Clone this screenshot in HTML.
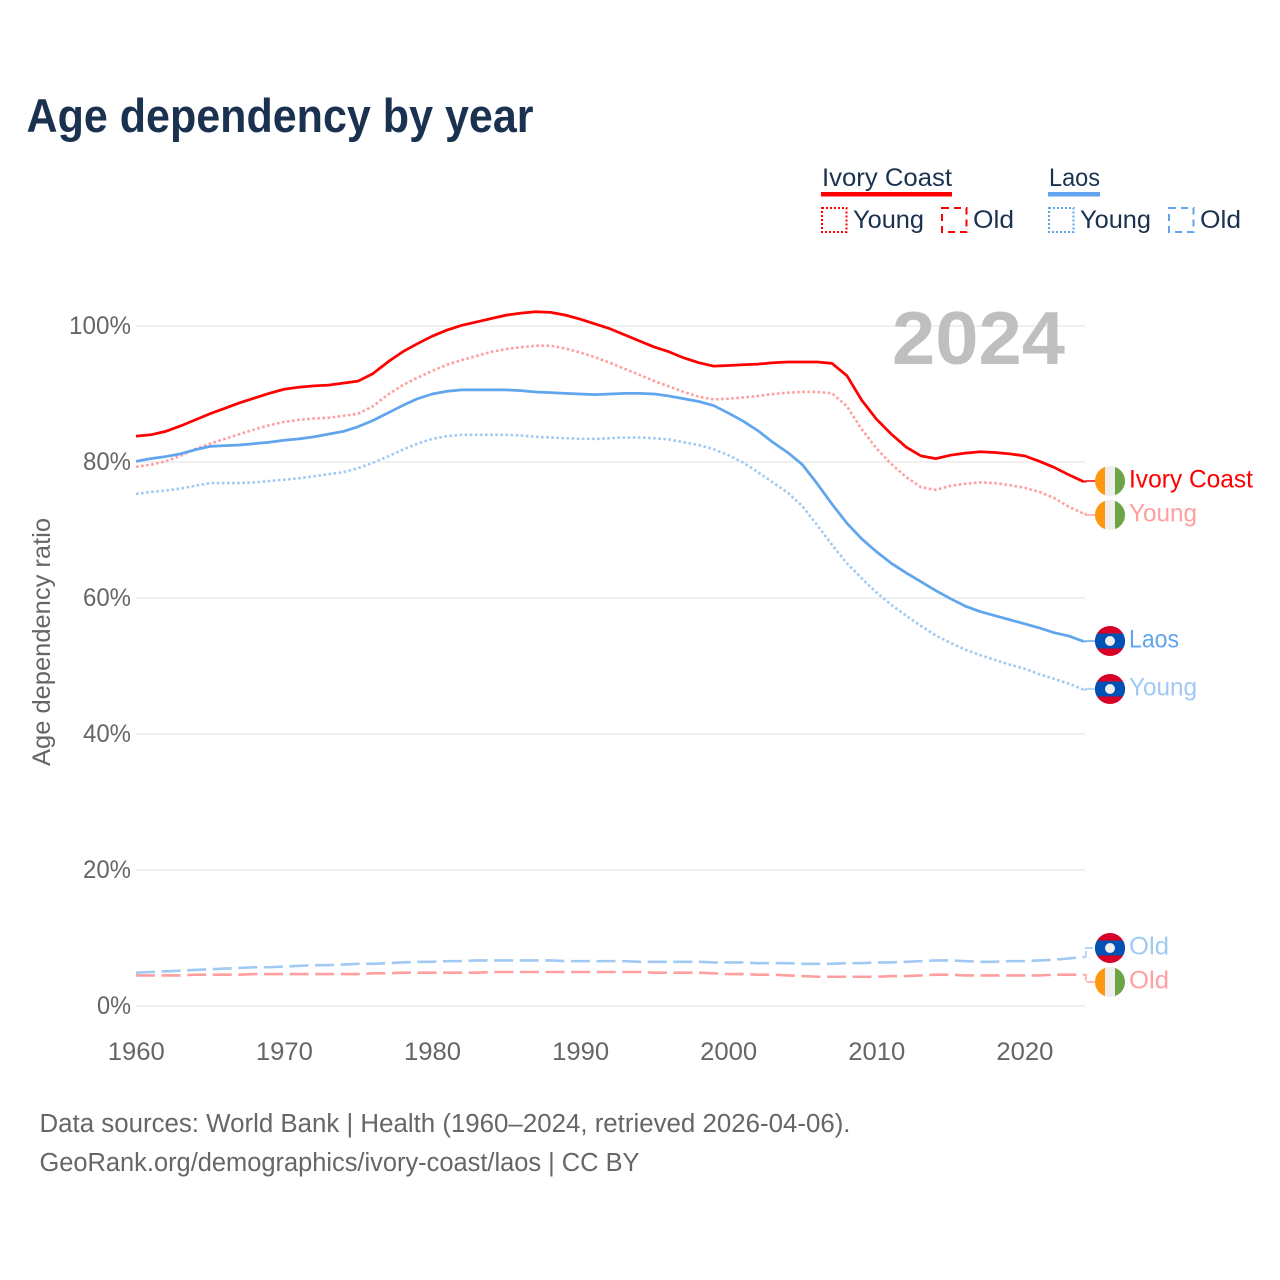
<!DOCTYPE html>
<html lang="en">
<head>
<meta charset="utf-8">
<title>Age dependency by year</title>
<style>
html,body{margin:0;padding:0;background:#fff;width:1280px;height:1280px;overflow:hidden}
svg{display:block}
text{font-family:"Liberation Sans",sans-serif}
</style>
</head>
<body>
<svg id="chart" xmlns="http://www.w3.org/2000/svg" width="1280" height="1280" viewBox="0 0 1280 1280">
  <rect x="0" y="0" width="1280" height="1280" fill="#ffffff"/>
  <text x="26.500" y="132" font-size="47" font-weight="700" fill="#1a3250" textLength="507" lengthAdjust="spacingAndGlyphs">Age dependency by year</text>

  <g>
    <text x="822" y="186" font-size="25" fill="#1a3250" textLength="130" lengthAdjust="spacingAndGlyphs">Ivory Coast</text>
    <rect x="821" y="192" width="131" height="4.5" fill="#ff0000"/>
    <rect x="822" y="208" width="24.500" height="24" fill="none" stroke="#ff0000" stroke-width="2" stroke-dasharray="2 2"/>
    <text x="853" y="228" font-size="25" fill="#1a3250" textLength="71" lengthAdjust="spacingAndGlyphs">Young</text>
    <rect x="942" y="208" width="24.500" height="24" fill="none" stroke="#ff0000" stroke-width="2" stroke-dasharray="7 5"/>
    <text x="973" y="228" font-size="25" fill="#1a3250" textLength="41" lengthAdjust="spacingAndGlyphs">Old</text>

    <text x="1049" y="186" font-size="25" fill="#1a3250" textLength="51" lengthAdjust="spacingAndGlyphs">Laos</text>
    <rect x="1048" y="192" width="52" height="4.5" fill="#60a5ee"/>
    <rect x="1049" y="208" width="24.500" height="24" fill="none" stroke="#60a5ee" stroke-width="2" stroke-dasharray="2 2"/>
    <text x="1080" y="228" font-size="25" fill="#1a3250" textLength="71" lengthAdjust="spacingAndGlyphs">Young</text>
    <rect x="1169" y="208" width="24.500" height="24" fill="none" stroke="#60a5ee" stroke-width="2" stroke-dasharray="7 5"/>
    <text x="1200" y="228" font-size="25" fill="#1a3250" textLength="41" lengthAdjust="spacingAndGlyphs">Old</text>
  </g>

  <g id="grid"></g>
  <text x="978.500" y="364" text-anchor="middle" font-size="75" font-weight="700" fill="#bfbfbf" textLength="173" lengthAdjust="spacingAndGlyphs">2024</text>
  <g id="yticks"></g>
  <g id="xticks"></g>
  <text transform="translate(50,642) rotate(-90)" text-anchor="middle" font-size="25" fill="#666666" textLength="248" lengthAdjust="spacingAndGlyphs">Age dependency ratio</text>
  <g id="series"></g>
  <g id="endlabels"></g>

  <text x="39.500" y="1132" font-size="25.500" fill="#666666" textLength="811" lengthAdjust="spacingAndGlyphs">Data sources: World Bank | Health (1960–2024, retrieved 2026-04-06).</text>
  <text x="39.500" y="1171" font-size="25.500" fill="#666666" textLength="600" lengthAdjust="spacingAndGlyphs">GeoRank.org/demographics/ivory-coast/laos | CC BY</text>
</svg>

<script>
const years = [1960,1961,1962,1963,1964,1965,1966,1967,1968,1969,1970,1971,1972,1973,1974,1975,1976,1977,1978,1979,1980,1981,1982,1983,1984,1985,1986,1987,1988,1989,1990,1991,1992,1993,1994,1995,1996,1997,1998,1999,2000,2001,2002,2003,2004,2005,2006,2007,2008,2009,2010,2011,2012,2013,2014,2015,2016,2017,2018,2019,2020,2021,2022,2023,2024];
const ivoryTotal = [83.8,84.0,84.5,85.3,86.2,87.1,87.9,88.7,89.4,90.1,90.7,91.0,91.2,91.3,91.6,91.9,93.0,94.7,96.2,97.4,98.5,99.4,100.1,100.6,101.1,101.6,101.9,102.1,102.0,101.6,101.0,100.3,99.6,98.7,97.8,96.9,96.2,95.3,94.6,94.1,94.2,94.3,94.4,94.6,94.7,94.7,94.7,94.5,92.7,89.1,86.3,84.1,82.2,80.9,80.5,81.0,81.3,81.5,81.4,81.2,80.9,80.1,79.2,78.1,77.1];
const ivoryYoung = [79.3,79.6,80.1,80.9,81.9,82.7,83.4,84.1,84.8,85.4,85.9,86.2,86.4,86.5,86.8,87.1,88.2,89.9,91.3,92.4,93.4,94.3,95.0,95.6,96.2,96.6,96.9,97.1,97.1,96.7,96.1,95.4,94.6,93.7,92.8,91.9,91.1,90.3,89.6,89.2,89.3,89.5,89.7,90.0,90.2,90.3,90.3,90.1,88.2,84.8,82.0,79.7,77.8,76.3,75.9,76.5,76.8,77.0,76.9,76.6,76.2,75.6,74.7,73.4,72.4];
const ivoryOld = [4.5,4.5,4.5,4.5,4.6,4.6,4.6,4.6,4.7,4.7,4.7,4.7,4.7,4.7,4.7,4.7,4.8,4.8,4.9,4.9,4.9,4.9,4.9,4.9,5.0,5.0,5.0,5.0,5.0,5.0,5.0,5.0,5.0,5.0,5.0,4.9,4.9,4.9,4.9,4.8,4.7,4.7,4.6,4.6,4.5,4.4,4.3,4.3,4.3,4.3,4.3,4.4,4.4,4.5,4.6,4.6,4.5,4.5,4.5,4.5,4.5,4.5,4.6,4.6,4.6];
const laosTotal = [80.1,80.5,80.8,81.2,81.8,82.3,82.4,82.5,82.7,82.9,83.2,83.4,83.7,84.1,84.5,85.2,86.1,87.2,88.3,89.3,90.0,90.4,90.6,90.6,90.6,90.6,90.5,90.3,90.2,90.1,90.0,89.9,90.0,90.1,90.1,90.0,89.7,89.3,88.9,88.3,87.2,86.0,84.6,82.9,81.4,79.6,76.8,73.8,71.0,68.7,66.8,65.1,63.7,62.4,61.1,59.9,58.8,58.0,57.4,56.8,56.2,55.6,54.9,54.4,53.6];
const laosYoung = [75.3,75.6,75.8,76.1,76.5,76.9,76.9,76.9,77.0,77.2,77.4,77.6,77.9,78.2,78.5,79.1,79.9,80.8,81.8,82.7,83.4,83.8,84.0,84.0,84.0,84.0,83.9,83.7,83.6,83.5,83.4,83.4,83.5,83.6,83.6,83.5,83.3,82.9,82.5,81.9,81.0,79.9,78.5,77.0,75.5,73.5,70.7,67.8,65.1,62.9,60.8,59.0,57.4,55.9,54.5,53.4,52.4,51.6,50.9,50.2,49.6,48.8,48.1,47.4,46.5];
const laosOld = [4.9,5.0,5.1,5.2,5.3,5.4,5.5,5.6,5.7,5.7,5.8,5.9,6.0,6.0,6.1,6.2,6.2,6.3,6.4,6.5,6.5,6.6,6.6,6.7,6.7,6.7,6.7,6.7,6.7,6.6,6.6,6.6,6.6,6.6,6.5,6.5,6.5,6.5,6.5,6.4,6.4,6.4,6.3,6.3,6.3,6.2,6.2,6.2,6.3,6.3,6.4,6.4,6.5,6.6,6.7,6.7,6.6,6.5,6.5,6.6,6.6,6.7,6.8,7.0,7.2];
const xTickValues = [1960,1970,1980,1990,2000,2010,2020];
const yTickValues = [0,20,40,60,80,100];

const SVG_NS = 'http://www.w3.org/2000/svg';
function scaleX(year){ return 136 + (year - 1960) * 14.81; }
function scaleY(pct){ return 1006 - pct * 6.8; }

function make(tag, attrs, parent){
  const el = document.createElementNS(SVG_NS, tag);
  for (const k in attrs) el.setAttribute(k, attrs[k]);
  parent.appendChild(el);
  return el;
}

const gridGroup = document.getElementById('grid');
const yTickGroup = document.getElementById('yticks');
const xTickGroup = document.getElementById('xticks');
const seriesGroup = document.getElementById('series');
const labelGroup = document.getElementById('endlabels');

yTickValues.forEach(function(v){
  const line = make('line', {x1:136, x2:1085, y1:scaleY(v), y2:scaleY(v), stroke:'#f0f0f0', 'stroke-width':2}, gridGroup);
  
  
  const s = v + '%';
  const t = make('text', {x:131, y:scaleY(v)+8, 'text-anchor':'end', 'font-size':25, fill:'#666666', textLength:(s.length-1)*14+20, lengthAdjust:'spacingAndGlyphs'}, yTickGroup);
  t.textContent = s;
  
  
});

xTickValues.forEach(function(v){
  const t = make('text', {x:scaleX(v)+0.300, y:1060, 'text-anchor':'middle', 'font-size':25, fill:'#666666', textLength:57, lengthAdjust:'spacingAndGlyphs'}, xTickGroup);
  t.textContent = String(v);
  
  
});

function drawLine(values, color, width, dash, name){
  const d = values.map(function(v, i){
    return (i ? 'L' : 'M') + scaleX(years[i]).toFixed(2) + ' ' + scaleY(v).toFixed(2);
  }).join(' ');
  const attrs = {d:d, fill:'none', stroke:color, 'stroke-width':width, 'stroke-linejoin':'round'};
  if (dash) attrs['stroke-dasharray'] = dash;
  const p = make('path', attrs, seriesGroup);
  
  
}

const RED = '#ff0000', BLUE = '#60a5ee', PALE_RED = '#ff9f9f', PALE_BLUE = '#a0c9f4';
const DOT = '2.6 2.5', DASH = '19 6.6';

drawLine(ivoryOld, PALE_RED, 2.6, DASH, 'line-ivory-coast-old');
drawLine(laosOld, PALE_BLUE, 2.6, DASH, 'line-laos-old');
drawLine(laosYoung, PALE_BLUE, 2.6, DOT, 'line-laos-young');
drawLine(ivoryYoung, PALE_RED, 2.6, DOT, 'line-ivory-coast-young');
drawLine(laosTotal, BLUE, 2.75, null, 'line-laos-total');
drawLine(ivoryTotal, RED, 2.75, null, 'line-ivory-coast-total');

function drawFlag(kind, cx, cy, name){
  const g = make('g', {}, labelGroup);
  
  
  const r = 15;
  make('circle', {cx:cx, cy:cy, r:r, fill: kind === 'ivory' ? '#eeeeee' : '#d80027'}, g);
  if (kind === 'ivory') {
    make('path', {d:'M'+(cx-5)+' '+(cy-14.14)+' A15 15 0 0 0 '+(cx-5)+' '+(cy+14.14)+' Z', fill:'#ff9811'}, g);
    make('path', {d:'M'+(cx+5)+' '+(cy-14.14)+' A15 15 0 0 1 '+(cx+5)+' '+(cy+14.14)+' Z', fill:'#6da544'}, g);
  } else {
    const h = 7.5, w = Math.sqrt(r*r - h*h);
    make('path', {d:'M'+(cx-w)+' '+(cy-h)+' L'+(cx+w)+' '+(cy-h)+' A15 15 0 0 1 '+(cx+w)+' '+(cy+h)+' L'+(cx-w)+' '+(cy+h)+' A15 15 0 0 1 '+(cx-w)+' '+(cy-h)+' Z', fill:'#0052b4'}, g);
    make('circle', {cx:cx, cy:cy, r:5, fill:'#eeeeee'}, g);
  }
}

function drawEndLabel(values, labelOffset, kind, text, color, textWidth, dash, name){
  const x0 = scaleX(years[years.length - 1]);
  const y0 = scaleY(values[values.length - 1]);
  const y1 = Math.round(y0 + labelOffset);
  const attrs = {d:'M'+x0+' '+y0+' L'+(x0+2)+' '+y0+' L'+(x0+2)+' '+y1+' L1095 '+y1, fill:'none', stroke:color, 'stroke-width':1.500};
  if (dash) attrs['stroke-dasharray'] = dash;
  const c = make('path', attrs, labelGroup);
  
  
  drawFlag(kind, 1110, y1, name + '-flag');
  const t = make('text', {x:1129, y:y1+6.5, 'font-size':25, fill:color, textLength:textWidth, lengthAdjust:'spacingAndGlyphs'}, labelGroup);
  t.textContent = text;
  
  
}

drawEndLabel(ivoryTotal, -0.500, 'ivory', 'Ivory Coast', RED, 124, null, 'end-ivory-coast-total');
drawEndLabel(ivoryYoung, 1, 'ivory', 'Young', PALE_RED, 68, null, 'end-ivory-coast-young');
drawEndLabel(laosTotal, -0.500, 'laos', 'Laos', BLUE, 50, null, 'end-laos-total');
drawEndLabel(laosYoung, -0.500, 'laos', 'Young', PALE_BLUE, 68, null, 'end-laos-young');
drawEndLabel(laosOld, -9, 'laos', 'Old', PALE_BLUE, 40, '8 2', 'end-laos-old');
drawEndLabel(ivoryOld, 7, 'ivory', 'Old', PALE_RED, 40, '8 2', 'end-ivory-coast-old');
</script>
</body>
</html>
